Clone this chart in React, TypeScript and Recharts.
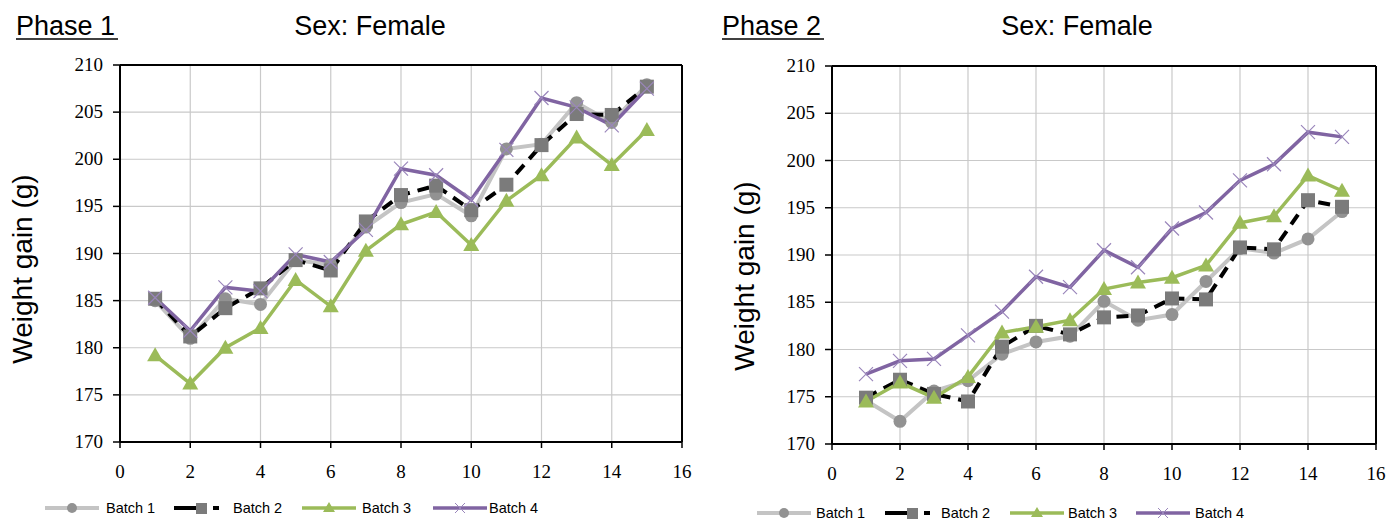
import React from 'react';
import { LineChart, Line, XAxis, YAxis, CartesianGrid, ReferenceLine } from 'recharts';

const days = [1, 2, 3, 4, 5, 6, 7, 8, 9, 10, 11, 12, 13, 14, 15];

// Phase 1, female
const p1Batch1 = [185.0, 181.0, 185.2, 184.6, 189.3, 188.8, 192.8, 195.4, 196.3, 194.0, 201.1, 201.6, 206.0, 203.9, 207.9];
const p1Batch2 = [185.2, 181.2, 184.2, 186.3, 189.3, 188.2, 193.4, 196.2, 197.2, 194.6, 197.3, 201.5, 204.8, 204.7, 207.7];
const p1Batch3 = [179.2, 176.2, 180.0, 182.1, 187.2, 184.4, 190.3, 193.1, 194.4, 190.9, 195.6, 198.3, 202.3, 199.4, 203.1];
const p1Batch4 = [185.3, 181.8, 186.4, 186.0, 189.9, 189.1, 192.5, 199.0, 198.3, 195.7, 201.0, 206.5, 205.5, 203.6, 207.5];

// Phase 2, female
const p2Batch1 = [174.6, 172.4, 175.6, 176.7, 179.5, 180.8, 181.4, 185.1, 183.1, 183.7, 187.2, 190.7, 190.2, 191.7, 194.6];
const p2Batch2 = [174.9, 176.8, 175.3, 174.5, 180.3, 182.5, 181.6, 183.4, 183.6, 185.4, 185.3, 190.8, 190.6, 195.8, 195.1];
const p2Batch3 = [174.5, 176.5, 174.9, 177.1, 181.8, 182.4, 183.1, 186.4, 187.1, 187.6, 188.9, 193.4, 194.1, 198.4, 196.8];
const p2Batch4 = [177.4, 178.8, 179.0, 181.5, 184.0, 187.7, 186.6, 190.5, 188.7, 192.8, 194.5, 197.9, 199.6, 203.0, 202.5];

const xTicks = [0, 2, 4, 6, 8, 10, 12, 14, 16];
const yTicks = [170, 175, 180, 185, 190, 195, 200, 205, 210];
const batchNames = ['Batch 1', 'Batch 2', 'Batch 3', 'Batch 4'];

const SANS = "'Liberation Sans', Arial, sans-serif";
const SERIF = "'Liberation Serif', 'Times New Roman', serif";

const C1 = '#c4c4c4';
const C1dot = '#929292';
const C2dot = '#7b7b7b';
const C3 = '#9bbb59';
const C4 = '#8064a2';

const buildRows = (b1: number[], b2: number[], b3: number[], b4: number[]) =>
  days.map((d, i) => ({ day: d, b1: b1[i], b2: b2[i], b3: b3[i], b4: b4[i] }));

const circleDot = (p: any) => <circle key={p.index} cx={p.cx} cy={p.cy} r={6.5} fill={C1dot} />;
const squareDot = (p: any) => <rect key={p.index} x={p.cx - 7} y={p.cy - 7} width={14} height={14} fill={C2dot} />;
const triDot = (p: any) => (
  <polygon key={p.index} points={`${p.cx},${p.cy - 8} ${p.cx + 8},${p.cy + 6} ${p.cx - 8},${p.cy + 6}`} fill={C3} />
);
const crossDot = (p: any) => (
  <path key={p.index} d={`M${p.cx - 7},${p.cy - 7}L${p.cx + 7},${p.cy + 7}M${p.cx + 7},${p.cy - 7}L${p.cx - 7},${p.cy + 7}`}
    stroke="#9a86bb" strokeWidth={1.2} fill="none" />
);

const tickText = { fontSize: 19, fontFamily: SERIF, fill: '#000' };

// serif tick labels like the Excel original
const XTick = (p: any) => (
  <text x={p.x} y={p.y} dy={14} textAnchor="middle" style={tickText}>
    {p.payload.value}
  </text>
);
const YTick = (p: any) => (
  <text x={p.x} y={p.y} dy={6} textAnchor="end" style={tickText}>
    {p.payload.value}
  </text>
);

interface PanelProps {
  rows: ReturnType<typeof buildRows>;
  left: number;
  margin: { top: number; right: number; bottom: number; left: number };
}

function Panel({ rows, left, margin }: PanelProps) {
  return (
    <div style={{ position: 'absolute', left, top: 0 }}>
      <LineChart width={694} height={521} data={rows} margin={margin}>
        <CartesianGrid stroke="#c9c9c9" strokeWidth={1.2} />
        <XAxis
          dataKey="day"
          type="number"
          domain={[0, 16]}
          ticks={xTicks}
          height={30}
          tickSize={6}
          tickMargin={16}
          axisLine={{ stroke: '#000', strokeWidth: 2 }}
          tickLine={{ stroke: '#000', strokeWidth: 1.5 }}
          tick={XTick}
        />
        <YAxis
          type="number"
          domain={[170, 210]}
          ticks={yTicks}
          width={60}
          tickSize={7}
          tickMargin={10}
          axisLine={{ stroke: '#000', strokeWidth: 2 }}
          tickLine={{ stroke: '#000', strokeWidth: 1.5 }}
          tick={YTick}
        />
        <ReferenceLine y={210} stroke="#000" strokeWidth={2} />
        <ReferenceLine x={16} stroke="#000" strokeWidth={2} />
        <Line dataKey="b1" stroke={C1} strokeWidth={4} dot={circleDot} isAnimationActive={false} />
        <Line dataKey="b2" stroke="#000" strokeWidth={4} strokeDasharray="12 8" dot={squareDot} isAnimationActive={false} />
        <Line dataKey="b3" stroke={C3} strokeWidth={3.5} dot={triDot} isAnimationActive={false} />
        <Line dataKey="b4" stroke={C4} strokeWidth={3.5} dot={crossDot} isAnimationActive={false} />
      </LineChart>
    </div>
  );
}

function LegendIcon({ x, y, w, i }: { x: number; y: number; w: number; i: number }) {
  const cx = x + w / 2;
  if (i === 0)
    return (
      <g>
        <line x1={x} y1={y} x2={x + w} y2={y} stroke={C1} strokeWidth={4} />
        <circle cx={cx} cy={y} r={5} fill={C1dot} />
      </g>
    );
  if (i === 1)
    return (
      <g>
        <line x1={x} y1={y} x2={cx} y2={y} stroke="#000" strokeWidth={4} />
        <line x1={cx + 12} y1={y} x2={cx + 18} y2={y} stroke="#000" strokeWidth={4} />
        <rect x={cx - 5} y={y - 5} width={11} height={11} fill={C2dot} />
      </g>
    );
  if (i === 2)
    return (
      <g>
        <line x1={x} y1={y} x2={x + w} y2={y} stroke={C3} strokeWidth={3.5} />
        <polygon points={`${cx},${y - 6} ${cx + 6},${y + 4} ${cx - 6},${y + 4}`} fill={C3} />
      </g>
    );
  return (
    <g>
      <line x1={x} y1={y} x2={x + w} y2={y} stroke={C4} strokeWidth={3.5} />
      <path d={`M${cx - 5},${y - 5}L${cx + 5},${y + 5}M${cx + 5},${y - 5}L${cx - 5},${y + 5}`} stroke="#9a86bb" strokeWidth={1} />
    </g>
  );
}

const leftLegend = [
  { ix: 45, tx: 106 },
  { ix: 174, tx: 233 },
  { ix: 302, tx: 362 },
  { ix: 433, tx: 489 },
];
const rightLegend = [
  { ix: 757, tx: 816 },
  { ix: 885, tx: 941 },
  { ix: 1010, tx: 1068 },
  { ix: 1136, tx: 1195 },
];

function Overlay() {
  const legend = (items: { ix: number; tx: number }[], y: number) =>
    items.map((it, i) => (
      <g key={i}>
        <LegendIcon x={it.ix} y={y} w={54} i={i} />
        <text x={it.tx} y={y + 5} style={{ fontSize: 14.5, fontFamily: SANS, fill: '#000' }}>
          {batchNames[i]}
        </text>
      </g>
    ));
  const title = { fontSize: 27, fontFamily: SANS, fill: '#000' };
  const axisTitle = { fontSize: 28, fontFamily: SANS, fill: '#000' };
  return (
    <svg width={1389} height={521} style={{ position: 'absolute', left: 0, top: 0, pointerEvents: 'none' }}>
      <text x={16} y={35} style={title}>Phase 1</text>
      <line x1={16} y1={39} x2={118} y2={39} stroke="#000" strokeWidth={1.5} />
      <text x={370} y={35} style={title} textAnchor="middle">Sex: Female</text>
      <text x={722} y={35} style={title}>Phase 2</text>
      <line x1={722} y1={39} x2={824} y2={39} stroke="#000" strokeWidth={1.5} />
      <text x={1077} y={35} style={title} textAnchor="middle">Sex: Female</text>
      <text transform="translate(32,269) rotate(-90)" style={axisTitle} textAnchor="middle">
        Weight gain (g)
      </text>
      <text transform="translate(754,276) rotate(-90)" style={axisTitle} textAnchor="middle">
        Weight gain (g)
      </text>
      {legend(leftLegend, 508)}
      {legend(rightLegend, 513)}
    </svg>
  );
}

export default function App() {
  const rows1 = buildRows(p1Batch1, p1Batch2, p1Batch3, p1Batch4);
  const rows2 = buildRows(p2Batch1, p2Batch2, p2Batch3, p2Batch4);
  return (
    <div style={{ position: 'absolute', left: 0, top: 0, width: 1389, height: 521, background: '#fff', overflow: 'hidden' }}>
      <Panel rows={rows1} left={0} margin={{ top: 65, right: 12, bottom: 49, left: 60 }} />
      <Panel rows={rows2} left={695} margin={{ top: 66, right: 13, bottom: 47, left: 77 }} />
      <Overlay />
    </div>
  );
}
